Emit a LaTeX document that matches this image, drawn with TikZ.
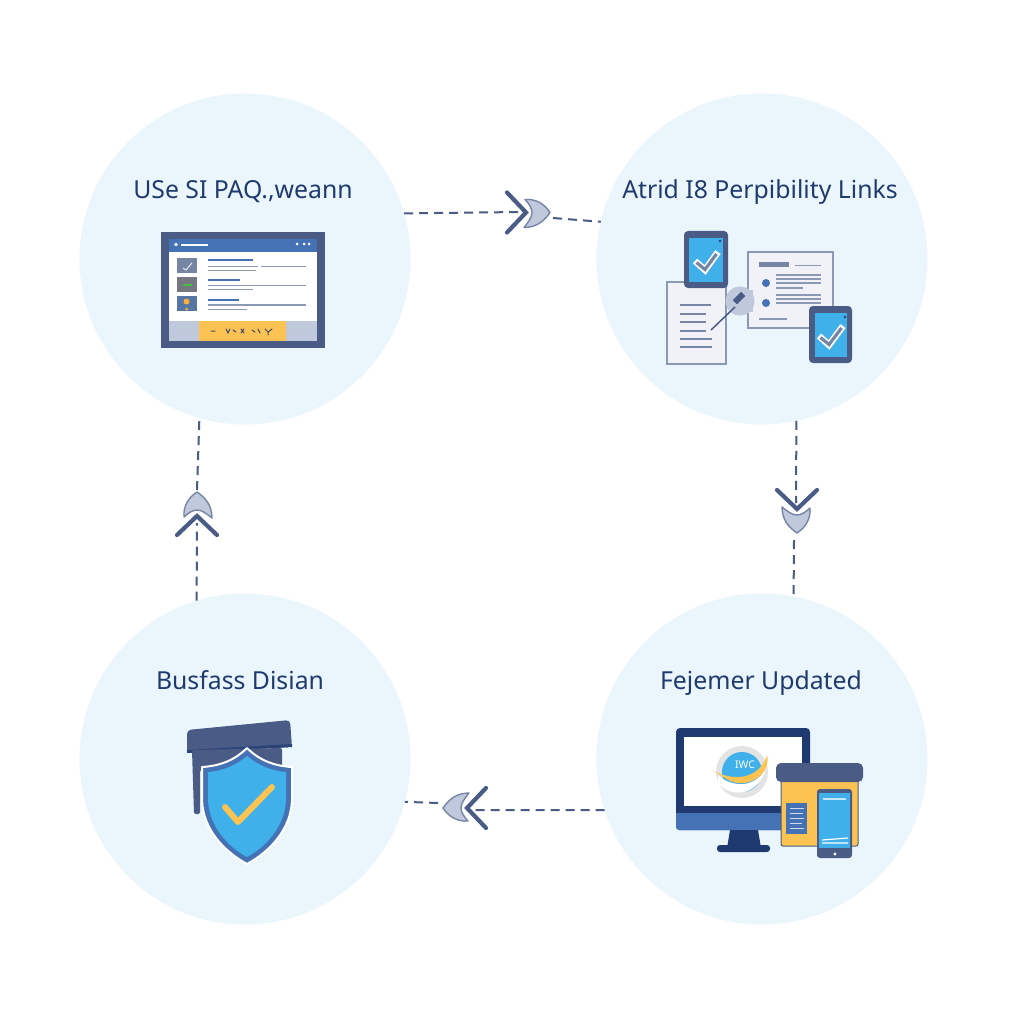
\documentclass[tikz,border=0pt]{standalone}
\usepackage{fontspec}
\setmainfont{Noto Sans}
\definecolor{disc}{HTML}{EAF6FC}
\definecolor{ink}{HTML}{1F3A6E}
\definecolor{slate}{HTML}{4A5C86}
\definecolor{navy}{HTML}{1E3A70}
\definecolor{midblue}{HTML}{4472B4}
\definecolor{sky}{HTML}{3FB0EA}
\definecolor{amber}{HTML}{FCC352}
\definecolor{paper}{HTML}{F0F2F7}
\definecolor{rule}{HTML}{8C99B5}
\definecolor{pale}{HTML}{C0C8DC}
\definecolor{edge}{HTML}{7785A5}
\tikzset{
  x=1pt,y=-1pt,
  discnode/.style={circle,fill=disc,draw=none,minimum size=331pt,inner sep=0pt,outer sep=0pt},
  lbl/.style={text=ink,font=\fontsize{24.8}{28}\selectfont,inner sep=0pt,anchor=base},
  link/.style={draw=slate,line width=2pt,dash pattern=on 9pt off 6pt},
  chev/.style={draw=slate,line width=4.2pt,line cap=round,line join=miter},
  tip/.style={fill=pale,draw=edge,line width=1.4pt,line join=round},
  txtline/.style={draw=rule,line width=1.6pt},
  headline/.style={draw=midblue,line width=2pt},
  darkline/.style={draw=edge,line width=2.2pt},
  tick/.style={line width=6.5pt,draw=white,line cap=butt,line join=miter},
  tickin/.style={line width=3.2pt,draw=edge,line cap=butt,line join=miter},
  marker/.pic={
    \draw[tip] (-1,-13) .. controls (10,-14) and (19,-8) .. (24,0)
      .. controls (18,9) and (10,15) .. (-2,15)
      .. controls (2,10) and (6,5) .. (6,0)
      .. controls (6,-4) and (3,-9) .. cycle;
    \draw[chev] (-19,-20) -- (0,0) -- (-19,20);
  }
}
\begin{document}
\begin{tikzpicture}
\useasboundingbox (0,0) rectangle (1024,1024);
\fill[white] (0,0) rectangle (1024,1024);

% Four stage discs
\node[discnode] (c1) at (245,259) {};
\node[discnode] (c2) at (762,259) {};
\node[discnode] (c3) at (245,759) {};
\node[discnode] (c4) at (762,759) {};

% Stage titles
\node[lbl] (t1) at (243,199) {USe SI PAQ.,weann};
\node[lbl] (t2) at (760,199) {Atrid I8 Perpibility Links};
\node[lbl] (t3) at (240,689) {Busfass Disian};
\node[lbl] (t4) at (761,689) {Fejemer Updated};

% Dashed links, each broken by a direction marker
\coordinate (a1) at (520,212);
\coordinate (a2) at (553,218);
\coordinate (b1) at (796,503);
\coordinate (b2) at (794,540);
\coordinate (d1) at (472,810);
\coordinate (d2) at (438,803);
\coordinate (e1) at (197,523);
\coordinate (e2) at (197,490);
\draw[link] (c1.16) -- (a1);
\draw[link] (a2) -- (c2.167);
\draw[link] (c2.-78) -- (b1);
\draw[link] (b2) -- (c4.79);
\draw[link] (c4.198) -- (d1);
\draw[link] (d2) -- (c3.-15);
\draw[link] (c3.107) -- (e1);
\draw[link] (e2) -- (c1.-106);

% Direction markers
\pic at (526,212.5) {marker};
\pic[rotate=-90] at (797,509) {marker};
\pic[rotate=180] at (467,808) {marker};
\pic[rotate=90] at (197,516) {marker};

% --- Browser window ---
\fill[slate] (161,232) rectangle (325,348);
\fill[white] (169,252) rectangle (317,321);
\fill[midblue] (169,239) rectangle (317,252);
\fill[white] (176,244.5) circle (1.8);
\draw[white,line width=2pt] (181,244.5) -- (208,244.5);
\foreach \px in {297,304,309} \fill[white] (\px,244) circle (1.5);
\fill[pale] (169,321) rectangle (317,341);
\fill[amber] (199,321) rectangle (286,341);
\fill[edge] (177,258) rectangle (197,273);
\draw[white,line width=.8pt] (183,268) -- (186,270) -- (192,263);
\fill[gray!80!slate] (177,277) rectangle (197,292);
\draw[green!50!gray,line width=1.2pt] (183,285) -- (192,285);
\fill[midblue!70!gray] (177,296) rectangle (197,311);
\fill[amber!70!orange] (186.5,301.5) circle (3);
\fill[amber!70!orange] (186.5,309) circle (1.5);
\draw[headline] (208,260) -- (253,260);
\draw[txtline] (208,266.5) -- (258,266.5) (261,266.5) -- (306,266.5) (208,270.5) -- (256,270.5);
\draw[headline] (208,279.5) -- (240,279.5);
\draw[txtline] (208,285.5) -- (306,285.5) (208,289.5) -- (253,289.5);
\draw[headline] (208,299.5) -- (239,299.5);
\draw[txtline] (208,305) -- (306,305) (208,309.5) -- (247,309.5);
\draw[slate!80!black,line width=1pt,line cap=round]
  (211,331) -- (215,331) (226,329) -- (228,333) -- (230,329)
  (233,330) -- (236,332) (241,329) -- (244,333) (244,329) -- (241,333)
  (252,330) -- (255,332) (258,329) -- (260,333)
  (265,329) -- (268,332) -- (272,329) (268,332) -- (268,335);

% --- Linked documents and tablets ---
\draw[fill=paper,draw=rule,line width=1.3pt] (748,252) rectangle (833,328);
\fill[edge] (759,262) rectangle (789,267);
\draw[txtline] (795,265.5) -- (821,265.5);
\fill[midblue] (766,283) circle (4);
\fill[midblue] (766,303) circle (4);
\draw[txtline] (776,275) -- (821,275) (776,279) -- (821,279) (776,283) -- (821,283)
  (776,288) -- (803,288) (776,295) -- (821,295) (776,299) -- (821,299) (776,303) -- (821,303)
  (759,319) -- (787,319);
\draw[fill=paper,draw=rule,line width=1.3pt] (667,282) rectangle (726,364);
\draw[darkline] (680,305) -- (711,305) (680,314) -- (706,314) (680,322) -- (706,322)
  (680,331) -- (706,331) (680,339) -- (712,339) (680,347) -- (712,347);
\fill[pale] (740,301) circle (14.5);
\fill[pale] (745,290) rectangle (753,312);
\draw[slate,line width=1.5pt] (711,330) -- (735,307);
\fill[slate,rotate around={45:(739,298)}] (733,295) rectangle (745,301);
\fill[slate,rounded corners=4pt] (684,231) rectangle (728,288);
\fill[sky] (689,238) rectangle (723,282);
\fill[navy] (720,241) circle (1.3);
\draw[tick] (695,261) -- (705,270) -- (718,252);
\draw[tickin] (696.5,262.5) -- (705,269.5) -- (716.5,254);
\fill[slate,rounded corners=4pt] (809,306) rectangle (852,363);
\fill[sky] (815,313) rectangle (847,357);
\fill[navy] (845,317) circle (1.3);
\draw[tick] (819,336) -- (829,345) -- (843,326);
\draw[tickin] (820.5,337.5) -- (829,344.5) -- (841.5,328);

% --- Shield ---
\fill[slate,rounded corners=4pt] (187,730) -- (290,720) -- (292,747) -- (187,753) -- cycle;
\fill[navy!70!slate] (187,753) -- (292,747) -- (292,744) -- (187,750) -- cycle;
\fill[slate,rounded corners=2pt] (192,750) -- (282,748) -- (282,770) -- (200,770) -- (200,814) -- (194,814) -- cycle;
\path[fill=midblue,draw=white,line width=2pt,line join=round]
  (247,748) .. controls (235,760) and (220,766) .. (202,767)
  -- (202,800) .. controls (203,830) and (225,852) .. (247,864)
  .. controls (269,852) and (291,830) .. (292,800)
  -- (292,767) .. controls (274,766) and (259,760) .. cycle;
\fill[sky]
  (247,756) .. controls (236,765) and (223,771) .. (208,772)
  -- (208,800) .. controls (209,826) and (228,847) .. (247,857)
  .. controls (266,847) and (285,826) .. (286,800)
  -- (286,772) .. controls (271,771) and (258,765) .. cycle;
\draw[amber,line width=6pt,line cap=round,line join=round] (225,807) -- (238,822) -- (272,787);

% --- Desktop, parcel and phone ---
\fill[navy,rounded corners=4pt] (676,728) rectangle (810,830);
\fill[white] (684,737) rectangle (802,806);
\fill[midblue,rounded corners=3pt] (676,813) rectangle (810,830);
\fill[midblue] (676,813) rectangle (810,820);
\fill[navy] (730,830) -- (758,830) -- (761,848) -- (727,848) -- cycle;
\fill[navy,rounded corners=3pt] (717,845) rectangle (770,852);
\fill[gray!22] (742,772) circle (26);
\fill[sky] (742,772) circle (20);
\fill[white] (718,776) .. controls (738,790) and (757,785) .. (766,768)
  .. controls (760,793) and (735,800) .. (718,784) -- cycle;
\fill[amber] (712,770) .. controls (735,783) and (760,778) .. (767,755)
  .. controls (772,775) and (745,792) .. (725,778) -- cycle;
\node[text=white,font=\fontsize{10.5}{12}\bfseries\selectfont,inner sep=0pt] (brand) at (745,765) {IWC};
\draw[fill=amber,draw=slate,line width=1pt,rounded corners=2pt] (781,778) rectangle (858,846);
\fill[slate,rounded corners=5pt] (776,763) rectangle (863,782);
\fill[midblue] (786,803) rectangle (807,834);
\draw[white!75!midblue,line width=.8pt] (790,808) -- (804,808) (790,813) -- (803,813) (790,818) -- (804,818) (790,823) -- (802,823) (790,828) -- (804,828);
\fill[slate,rounded corners=3pt] (817,789) rectangle (852,858);
\fill[sky] (819,793) rectangle (850,848);
\draw[white!70!sky,line width=1.2pt] (823,799) -- (846,799);
\draw[white,line width=1.2pt] (822,840) -- (848,838) (822,843) -- (848,843);
\fill[white] (835,854) circle (1.6);
\end{tikzpicture}
\end{document}
